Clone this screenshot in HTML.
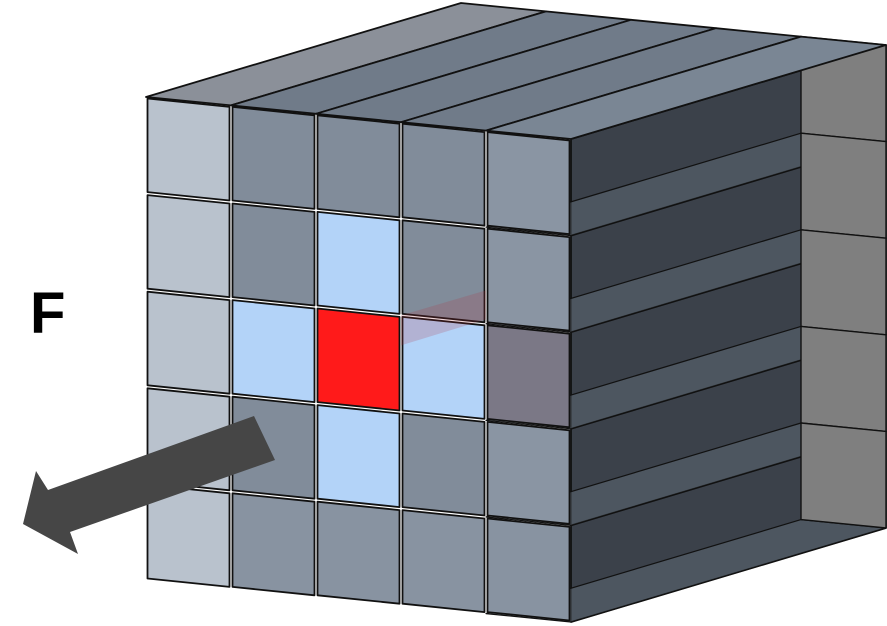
<!DOCTYPE html>
<html><head><meta charset="utf-8"><style>
html,body{margin:0;padding:0;background:#fff;}
svg{display:block;}
</style></head><body>
<svg id="fig" width="887" height="626" viewBox="0 0 887 626" xmlns="http://www.w3.org/2000/svg">
<g id="boxes"></g>
<polygon points="254,416 275,460 70,532 78,554 23,524 36,471 48,490" fill="#464646"/>
<text x="30" y="333" font-family="Liberation Sans, sans-serif" font-weight="bold" font-size="58" fill="#000">F</text>
</svg>
<script>
const NS='http://www.w3.org/2000/svg';
const g=document.getElementById('boxes');
const O=[146,97], U=[85,8.4], V=[0,96.6], D=[315,-94];
function P(i,j){return [O[0]+i*U[0]+j*V[0], O[1]+i*U[1]+j*V[1]];}
function add(p,q){return [p[0]+q[0],p[1]+q[1]];}
function poly(pts,fill,name,sw,op){
  const e=document.createElementNS(NS,'polygon');
  e.setAttribute('points',pts.map(p=>p[0].toFixed(1)+','+p[1].toFixed(1)).join(' '));
  e.setAttribute('fill',fill);
  if(op!==undefined) e.setAttribute('fill-opacity',op);
  e.setAttribute('stroke','#111');
  e.setAttribute('stroke-width',sw||1.6);
  e.setAttribute('stroke-linejoin','round');
  
  
  g.appendChild(e);
}
// right column: side faces, floors, back faces
for(let j=0;j<5;j++){
  const b=P(5,j),c=P(5,j+1);
  poly([b,c,add(c,D),add(b,D)],'#3b414a','tube-side-face',1.8);
}
for(let j=0;j<5;j++){
  const c=P(5,j+1),d=P(4,j+1);
  poly([d,c,add(c,D),add(d,D)],'#5d6773','tube-floor',1.2,0.55);
}
for(let j=0;j<5;j++){
  const a=P(4,j),b=P(5,j),c=P(5,j+1),d=P(4,j+1);
  poly([add(a,D),add(b,D),add(c,D),add(d,D)],'#7f7f7f','tube-back-face',1.4);
}
// top faces
for(let i=0;i<5;i++){
  const a=P(i,0),b=P(i+1,0);
  poly([a,b,add(b,D),add(a,D)], i===0?'#8b9099':(i===4?'#7a8694':'#707b89'),'tube-top-face',1.8);
}
// front faces
const blue=[[1,2],[2,1],[3,2],[2,3]];
for(let j=0;j<5;j++){
  for(let i=0;i<5;i++){
    let f= i===0?'#b9c2cd':(i===4?'#8a95a3':'#818c9a');
    if(j===4&&i>0) f='#8893a1';
    if(i===4&&j===2) f='#7b7886';
    let name='tube-front-face';
    if(blue.some(b=>b[0]===i&&b[1]===j)){f='#b3d3f8';name='neighbor-cell';}
    if(i===2&&j===2){f='#ff1a1a';name='target-cell';}
    const a=add(P(i,j),[1.5,1.5]),b=add(P(i+1,j),[-1.5,1.5]),c=add(P(i+1,j+1),[-1.5,-1.5]),d=add(P(i,j+1),[1.5,-1.5]);
    poly([a,b,c,d],f,name,1.8);
  }
}
// faint red trail of target tube seen through neighbor
(function(){
  const a=P(3,2);
  const e=document.createElementNS(NS,'polygon');
  const pts=[add(a,[0,0]),add(a,[85,-25]),add(a,[85,4]),add(a,[0,30])];
  e.setAttribute('points',pts.map(p=>p.join(',')).join(' '));
  e.setAttribute('fill','#b03040');e.setAttribute('fill-opacity','0.2');
  
  
  g.appendChild(e);
})();
</script>
</body></html>
